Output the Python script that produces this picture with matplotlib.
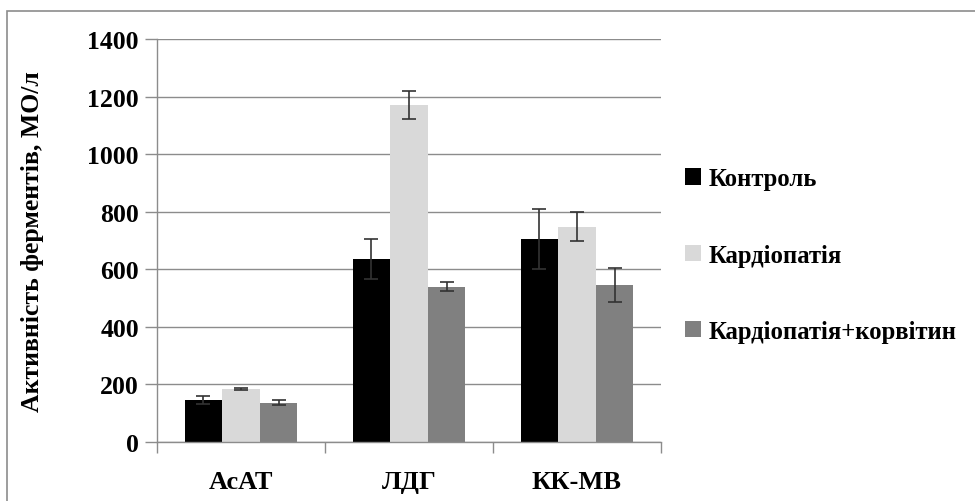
import matplotlib
matplotlib.use('Agg')
import matplotlib.pyplot as plt
from matplotlib.patches import Rectangle, Patch
import numpy as np

# data
categories = ['АсАТ', 'ЛДГ', 'КК-МВ']
series = ['Контроль', 'Кардіопатія', 'Кардіопатія+корвітин']
control = [145, 636, 706]
cardio = [184, 1171, 748]
cardio_korv = [137, 540, 545]
control_err = [14, 70, 105]
cardio_err = [5, 50, 50]
cardio_korv_err = [9, 15, 60]
yticks = [0, 200, 400, 600, 800, 1000, 1200, 1400]

colors = ['#000000', '#d9d9d9', '#808080']

plt.rcParams['font.family'] = ['Liberation Serif', 'DejaVu Serif']
plt.rcParams['font.weight'] = 'bold'

fig = plt.figure(figsize=(9.75, 5.02), dpi=100)
ax = fig.add_axes([157/975, 1 - 443/502, (661 - 157)/975, (443 - 40)/502])

x = np.arange(len(categories))
w = 0.224
vals = [control, cardio, cardio_korv]
errs = [control_err, cardio_err, cardio_korv_err]
for i in range(3):
    ax.bar(x + (i - 1) * w, vals[i], w, color=colors[i], zorder=2,
           yerr=errs[i], capsize=5,
           error_kw=dict(ecolor='#333333', elinewidth=1.2, capthick=1.2, zorder=3))

ax.set_xlim(-0.5, 2.5)
ax.set_ylim(0, 1400)
ax.set_yticks(yticks)
ax.set_yticklabels([str(v) for v in yticks], fontsize=18.5, fontweight='bold')
ax.yaxis.grid(True, color='#8c8c8c', linewidth=1.0, zorder=0)
ax.set_axisbelow(True)

ax.set_xticks(x)
ax.set_xticklabels(categories, fontsize=19, fontweight='bold')
ax.tick_params(axis='x', which='major', length=0, pad=20)
ax.set_xticks([-0.5, 0.5, 1.5, 2.5], minor=True)
ax.tick_params(axis='x', which='minor', length=8, color='#8c8c8c', width=1.0)
ax.tick_params(axis='y', length=9, color='#8c8c8c', width=1.0, pad=4)

for s in ['top', 'right']:
    ax.spines[s].set_visible(False)
for s in ['left', 'bottom']:
    ax.spines[s].set_color('#8c8c8c')
    ax.spines[s].set_linewidth(1.0)

ax.set_ylabel('Активність ферментів, МО/л', fontsize=18.5, fontweight='bold')
ax.yaxis.set_label_coords(-0.225, 0.5)

handles = [Patch(facecolor=c, edgecolor='none') for c in colors]
fig.legend(handles, series, loc='center left', bbox_to_anchor=(685/975, 1 - 256/502),
           frameon=False, prop={'size': 17.8, 'weight': 'bold'},
           handlelength=0.65, handleheight=0.65, handletextpad=0.3,
           labelspacing=2.15, borderpad=0, borderaxespad=0)

# outer chart frame
fig.patches.append(Rectangle((7/975, -0.05), 1.0, 1 - 12/502 + 0.05,
                             transform=fig.transFigure, fill=False,
                             edgecolor='#8c8c8c', linewidth=1.2))

fig.savefig('out.png', dpi=100)
